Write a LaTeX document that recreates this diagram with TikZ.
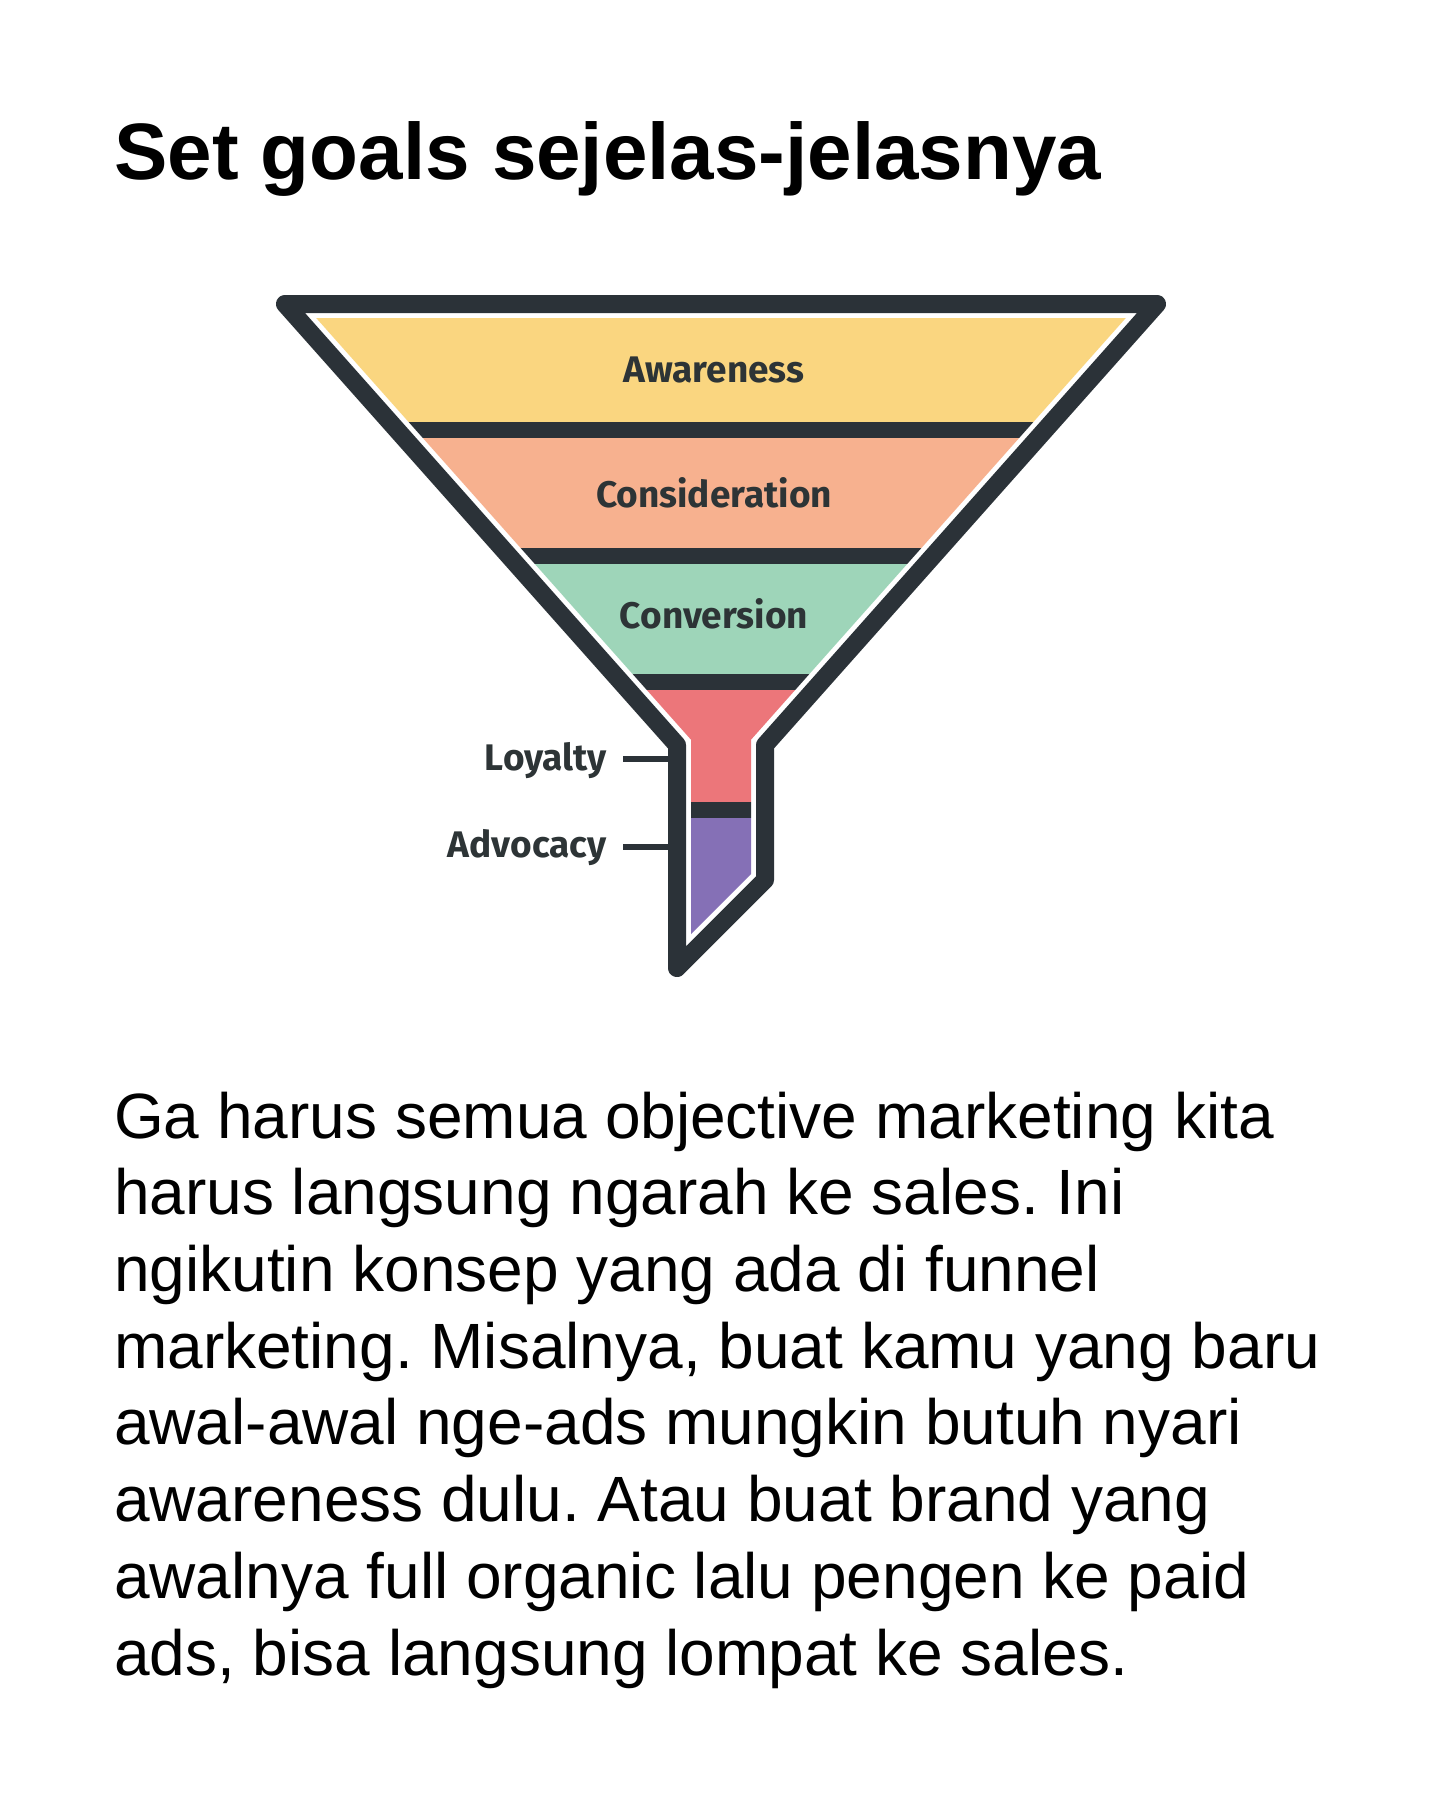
\documentclass[tikz,border=0pt]{standalone}
\usepackage{fontspec}
\setmainfont{Liberation Sans}
\newfontfamily\labelfont{Fira Sans}
\definecolor{cdark}{HTML}{2B3238}
\definecolor{ctext}{HTML}{2D3436}
\definecolor{cyel}{HTML}{FAD680}
\definecolor{corange}{HTML}{F7B18F}
\definecolor{cgreen}{HTML}{9ED5B9}
\definecolor{cpink}{HTML}{EC767A}
\definecolor{cpurple}{HTML}{8570B6}
\frenchspacing
\begin{document}
\begin{tikzpicture}[x=1pt,y=-1pt,
  funnel/.style={draw=cdark, line width=18pt, line join=round},
  tickline/.style={draw=cdark, line width=6pt},
  stagelabel/.style={anchor=base, inner sep=0pt, text=ctext, font=\labelfont\bfseries\fontsize{37}{41}\selectfont},
  sidelabel/.style={anchor=base east, inner sep=0pt, text=ctext, font=\labelfont\bfseries\fontsize{37}{41}\selectfont},
  bodyline/.style={anchor=base west, inner sep=0pt, font=\fontsize{64}{77}\selectfont}]
\useasboundingbox[fill=white] (0,0) rectangle (1440,1800);

\node[anchor=base west, inner sep=0pt, font=\fontsize{80}{96}\selectfont\bfseries] (title) at (114,179) {Set goals sejelas-jelasnya};

% funnel bands
\begin{scope}
\clip (316.2,318) -- (691,739.7) -- (691,934.2) -- (751,874.2) -- (751,739.7) -- (1125.8,318) -- cycle;
\fill[cyel] (250,310) rectangle (1200,422);
\fill[cdark] (250,422) rectangle (1200,438);
\fill[corange] (250,438) rectangle (1200,548);
\fill[cdark] (250,548) rectangle (1200,564);
\fill[cgreen] (250,564) rectangle (1200,674);
\fill[cdark] (250,674) rectangle (1200,690);
\fill[cpink] (250,690) rectangle (1200,802);
\fill[cdark] (250,802) rectangle (1200,818);
\fill[cpurple] (250,818) rectangle (1200,960);
\end{scope}
\draw[funnel] (285,304) -- (677,745) -- (677,968) -- (765,880) -- (765,745) -- (1157,304) -- cycle;

\node[stagelabel] (aw) at (714,382) {Awareness};
\node[stagelabel] (co) at (714,507) {Consideration};
\node[stagelabel] (cv) at (714,628) {Conversion};

\node[sidelabel] (loy) at (607,770) {Loyalty};
\node[sidelabel] (adv) at (607,857) {Advocacy};
\coordinate (loyT) at (668,759);
\coordinate (advT) at (668,847);
\coordinate (loyS) at (623,759);
\coordinate (advS) at (623,847);
\draw[tickline] (loyS) -- (loyT);
\draw[tickline] (advS) -- (advT);

\node[bodyline] (l1) at (114,1138) {Ga harus semua objective marketing kita};
\node[bodyline] (l2) at (114,1214.7) {harus langsung ngarah ke sales. Ini};
\node[bodyline] (l3) at (114,1291.4) {ngikutin konsep yang ada di funnel};
\node[bodyline] (l4) at (114,1368.1) {marketing. Misalnya, buat kamu yang baru};
\node[bodyline] (l5) at (114,1444.8) {awal-awal nge-ads mungkin butuh nyari};
\node[bodyline] (l6) at (114,1521.5) {awareness dulu. Atau buat brand yang};
\node[bodyline] (l7) at (114,1598.2) {awalnya full organic lalu pengen ke paid};
\node[bodyline] (l8) at (114,1675) {ads, bisa langsung lompat ke sales.};
\end{tikzpicture}
\end{document}
